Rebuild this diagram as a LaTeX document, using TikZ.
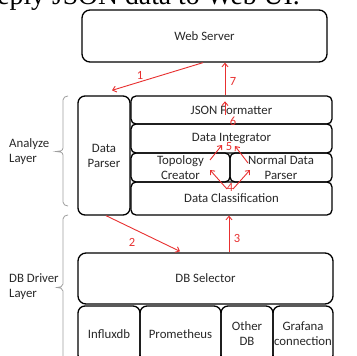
\documentclass[tikz,border=0pt]{standalone}
\usepackage{fontspec}
\setmainfont{Carlito}
\newfontfamily\captionserif{Liberation Serif}
\usetikzlibrary{arrows.meta}
\definecolor{flowred}{RGB}{232,48,48}
\definecolor{inktext}{RGB}{40,40,40}

\begin{document}
\begin{tikzpicture}[x=1pt,y=-1pt,
  box/.style={draw=black, line width=1.3pt, rounded corners=5pt, align=center,
              inner sep=0pt, text=inktext, font=\fontsize{12.8}{15}\selectfont},
  flow/.style={draw=flowred, line width=0.9pt, -{Straight Barb[length=3.5pt,width=6pt]}},
  num/.style={text=flowred, inner sep=0pt, font=\fontsize{12.5}{14}\selectfont},
  bracket/.style={draw=gray!75, line width=0.8pt},
  layertext/.style={align=left, anchor=west, inner sep=0pt, text=inktext,
                    font=\fontsize{12.8}{15}\selectfont}]

\useasboundingbox (0,0) rectangle (357,356);
\fill[white] (0,0) rectangle (357,356);
\clip (0,0) rectangle (357,356);

% heading line above the figure
\node[anchor=base east, inner sep=0pt, font=\captionserif\fontsize{27.7}{30}\selectfont]
  (caption) at (300,5) {Reply JSON data to Web UI.};

% web tier
\node[box, rounded corners=8pt, minimum width=245pt, minimum height=52pt] (ws) at (204.5,36) {Web Server};

% analyze layer
\node[box, rounded corners=7pt, minimum width=52pt, minimum height=119pt] (dp) at (104,155.5) {Data\\Parser};
\node[box, minimum width=201pt, minimum height=28pt] (jf) at (231.5,110) {JSON Formatter};
\node[box, minimum width=201pt, minimum height=29pt] (di) at (231.5,138.5) {Data Integrator};
\node[box, minimum width=99pt, minimum height=29pt] (tc) at (180.5,167.5) {Topology\\Creator};
\node[box, minimum width=102pt, minimum height=29pt] (nd) at (281,167.5) {Normal Data\\Parser};
\node[box, minimum width=201pt, minimum height=33pt] (dc) at (231.5,198.5) {Data Classification};

% db driver layer
\node[box, rounded corners=8pt, minimum width=255pt, minimum height=51pt] (dbs) at (205.5,278.5) {DB Selector};
\node[box, rounded corners=7pt, minimum width=62pt, minimum height=56pt] (inf) at (109,334) {Influxdb};
\node[box, rounded corners=7pt, minimum width=81pt, minimum height=56pt] (pro) at (180.5,334) {Prometheus};
\node[box, rounded corners=7pt, minimum width=52pt, minimum height=56pt] (oth) at (247,334) {Other\\DB};
\node[box, rounded corners=7pt, minimum width=60pt, minimum height=56pt] (gra) at (303,334) {Grafana\\connection};

% layer brackets and names
\draw[bracket] (68,96) to[out=180,in=90] (63,100) -- (63,148)
  to[out=-90,in=0] (56,151.5) to[out=0,in=90] (63,155) -- (63,202) to[out=-90,in=180] (68,206);
\draw[bracket] (68,215) to[out=180,in=90] (63,219) -- (63,284)
  to[out=-90,in=0] (57,287.5) to[out=0,in=90] (63,291) -- (63,360);
\node[layertext] (analyze) at (9,151.5) {Analyze\\Layer};
\node[layertext] (driver) at (9,287) {DB Driver\\Layer};

% numbered request flow
\draw[flow] ([xshift=-1.5pt]ws.south) -- ([xshift=8pt,yshift=5pt]dp.north);
\draw[flow] ([xshift=2pt]dp.south) -- ([xshift=-25.5pt,yshift=1pt]dbs.north);
\draw[flow] ([xshift=23.5pt]dbs.north) -- ([xshift=23.5pt]dbs.north |- dc.south);
\draw[flow] ([xshift=-4.5pt,yshift=9.5pt]dc.center) -- ([xshift=29.5pt,yshift=-2.5pt]tc.center);
\draw[flow] ([xshift=1.5pt,yshift=9.5pt]dc.center) -- ([xshift=-31pt,yshift=-2.5pt]nd.center);
\draw[flow] ([xshift=29.5pt,yshift=7.5pt]tc.center) -- ([xshift=-9.5pt,yshift=-6.5pt]di.center);
\draw[flow] ([xshift=-33pt,yshift=4.5pt]nd.center) -- ([xshift=3.5pt,yshift=-7.5pt]di.center);
\draw[flow] ([xshift=-6.5pt,yshift=8.5pt]di.north) -- ([xshift=-6.5pt,yshift=22pt]di.north);
\draw[flow] ([xshift=-6.5pt]jf.north) -- ([xshift=-6.5pt]jf.north |- ws.south);

\node[num] (n1) at (140,75) {1};
\node[num] (n2) at (132,242) {2};
\node[num] (n3) at (237,238) {3};
\node[num] (n4) at (230,187) {4};
\node[num] (n5) at (229,147) {5};
\node[num] (n6) at (233,121) {6};
\node[num] (n7) at (233,81) {7};

\end{tikzpicture}
\end{document}
